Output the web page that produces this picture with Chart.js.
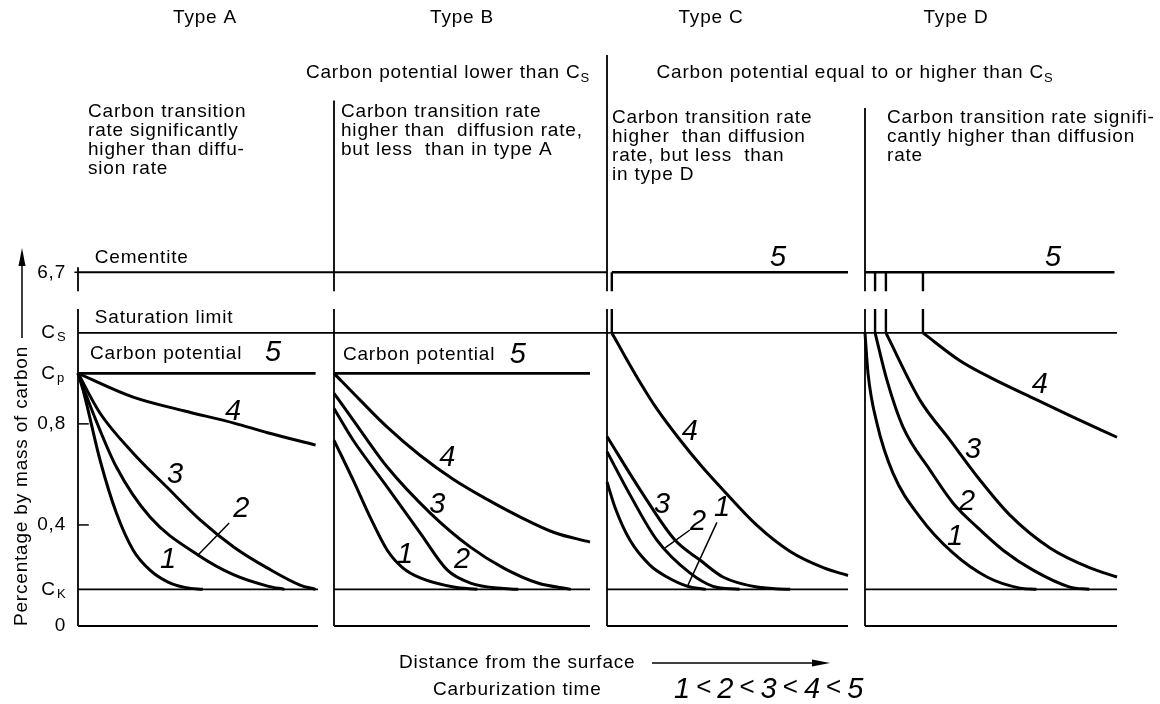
<!DOCTYPE html>
<html>
<head>
<meta charset="utf-8">
<script src="https://cdn.jsdelivr.net/npm/chart.js@4.4.1/dist/chart.umd.min.js"></script>
<style>
    html, body { margin: 0; padding: 0; background: #fff; }
    #wrap { width: 1160px; height: 704px; }
</style>
</head>
<body>
<div id="wrap"><canvas id="carbon-chart" width="1160" height="704"></canvas></div>
<script>
// carbon levels on the (broken) y axis
const C_K = 0.145;
const C_P = 1.0;
const C_S = 1.16;
const CEMENTITE = 1.40;
const yTickValues = [0, C_K, 0.4, 0.8, C_P, C_S, CEMENTITE];
const yTickLabels = ['0', 'C', '0,4', '0,8', 'C', 'C', '6,7'];
const yTickSubs = ['', 'K', '', '', 'p', 'S', ''];

const panelNames = ['Type A', 'Type B', 'Type C', 'Type D'];

// curves: [distance as fraction of panel width, % carbon]
const typeA1 = [[0, 1.0], [0.025, 0.92], [0.092, 0.656], [0.16, 0.447], [0.23, 0.30], [0.30, 0.221], [0.375, 0.174], [0.45, 0.152], [0.52, 0.145]];
const typeA2 = [[0, 1.0], [0.063, 0.842], [0.16, 0.629], [0.30, 0.431], [0.50, 0.281], [0.65, 0.202], [0.79, 0.158], [0.86, 0.145]];
const typeA3 = [[0, 1.0], [0.092, 0.842], [0.23, 0.684], [0.37, 0.55], [0.51, 0.419], [0.65, 0.312], [0.79, 0.229], [0.925, 0.162], [0.99, 0.145]];
const typeA4 = [[0, 1.0], [0.23, 0.906], [0.44, 0.852], [0.65, 0.803], [0.79, 0.765], [0.99, 0.716]];
const typeA5 = [[0, C_P], [0.99, C_P]];

const typeB1 = [[0, 0.735], [0.075, 0.577], [0.141, 0.431], [0.208, 0.30], [0.27, 0.229], [0.337, 0.19], [0.467, 0.154], [0.56, 0.145]];
const typeB2 = [[0, 0.861], [0.075, 0.735], [0.208, 0.55], [0.337, 0.368], [0.443, 0.221], [0.533, 0.170], [0.663, 0.148], [0.72, 0.145]];
const typeB3 = [[0, 0.921], [0.075, 0.815], [0.208, 0.629], [0.376, 0.447], [0.533, 0.312], [0.663, 0.229], [0.796, 0.170], [0.925, 0.145]];
const typeB4 = [[0, 1.0], [0.102, 0.894], [0.208, 0.787], [0.337, 0.675], [0.467, 0.58], [0.6, 0.50], [0.73, 0.43], [0.86, 0.37], [1.0, 0.332]];
const typeB5 = [[0, C_P], [1.0, C_P]];

const typeC1 = [[0, 0.57], [0.033, 0.47], [0.095, 0.34], [0.178, 0.241], [0.249, 0.194], [0.332, 0.158], [0.41, 0.145]];
const typeC2 = [[0, 0.69], [0.095, 0.52], [0.207, 0.34], [0.344, 0.21], [0.44, 0.157], [0.55, 0.145]];
const typeC3 = [[0, 0.75], [0.137, 0.54], [0.282, 0.34], [0.386, 0.261], [0.481, 0.194], [0.622, 0.154], [0.76, 0.145]];
const typeC4 = [[0.02, C_S], [0.07, 1.075], [0.14, 0.96], [0.21, 0.855], [0.30, 0.74], [0.39, 0.635], [0.48, 0.54], [0.62, 0.40], [0.76, 0.295], [0.90, 0.23], [1.0, 0.20]];
const typeC5 = [[0.02, CEMENTITE], [1.0, CEMENTITE]];

const typeD1 = [[0, C_S], [0.012, 1.0], [0.048, 0.80], [0.111, 0.605], [0.218, 0.431], [0.349, 0.289], [0.484, 0.194], [0.615, 0.15], [0.68, 0.145]];
const typeD2 = [[0.04, C_S], [0.087, 0.973], [0.151, 0.787], [0.258, 0.617], [0.349, 0.487], [0.444, 0.392], [0.548, 0.30], [0.667, 0.221], [0.813, 0.154], [0.89, 0.145]];
const typeD3 = [[0.083, C_S], [0.218, 0.894], [0.337, 0.736], [0.456, 0.578], [0.575, 0.439], [0.734, 0.309], [0.893, 0.23], [1.0, 0.194]];
const typeD4 = [[0.23, C_S], [0.377, 1.05], [0.508, 0.978], [0.667, 0.902], [0.813, 0.833], [1.0, 0.747]];
const typeD5 = [[0, CEMENTITE], [0.99, CEMENTITE]];

// depth of the cementite layer at the surface (types C and D)
const cementiteC = [0.02];
const cementiteD = [0.04, 0.083, 0.23];

// curve number labels: [panel, distance, carbon, text]
const curveLabels = [
    [0, 0.375, 0.261, '1'], [0, 0.68, 0.465, '2'], [0, 0.404, 0.598, '3'], [0, 0.646, 0.847, '4'], [0, 0.8125, 1.08, '5'],
    [1, 0.278, 0.281, '1'], [1, 0.5, 0.26, '2'], [1, 0.404, 0.479, '3'], [1, 0.443, 0.665, '4'], [1, 0.718, 1.072, '5'],
    [2, 0.477, 0.467, '1'], [2, 0.378, 0.412, '2'], [2, 0.228, 0.479, '3'], [2, 0.344, 0.768, '4'], [2, 0.71, 1.456, '5'],
    [3, 0.357, 0.352, '1'], [3, 0.405, 0.49, '2'], [3, 0.429, 0.696, '3'], [3, 0.694, 0.954, '4'], [3, 0.746, 1.456, '5']
];
// leader lines from a curve to its number
const leaderA2 = [[0.5, 0.281], [0.63, 0.408]];
const leaderC1 = [[0.336, 0.162], [0.456, 0.41]];
const leaderC2 = [[0.241, 0.309], [0.344, 0.38]];

// layout: panel placement on the shared x axis, axis break, divider tops
const panelStart = [0, 256, 529, 787];
const panelWidth = [240, 256, 241, 252];
const X_MAX = 1039;
const axisBreak = [1.325, 1.255];
const dividerTop = [1.42, 2.08, 2.26, 2.05];

const BLACK = '#000';
const FAMILY = '"Liberation Sans", Arial, sans-serif';
const TEXT_FONT = '19px ' + FAMILY;
const SUB_FONT = '13px ' + FAMILY;
const DIGIT_FONT = 'italic 29px ' + FAMILY;

function at(panel, f) {
    return panelStart[panel] + f * panelWidth[panel];
}

function line(panel, pts, width, extra) {
    return Object.assign({
        data: pts.map(p => ({ x: at(panel, p[0]), y: p[1] })),
        borderColor: BLACK,
        borderWidth: width,
        pointRadius: 0,
        fill: false,
        tension: 0,
        clip: false
    }, extra || {});
}

function curve(panel, pts) {
    return line(panel, pts, 3, { cubicInterpolationMode: 'monotone' });
}

function buildDatasets() {
    const ds = [];
    // frame of each panel
    for (let p = 0; p < 4; p++) {
        ds.push(line(p, [[0, dividerTop[p]], [0, axisBreak[0]], [0, null], [0, axisBreak[1]], [0, 0]], 1.8));
        ds.push(line(p, [[0, 0], [1, 0]], 1.8));
        ds.push(line(p, [[0, C_K], [1, C_K]], 1.6));
    }
    ds.push(line(0, [[0, 0.8], [0.045, 0.8]], 1.5));
    ds.push(line(0, [[0, 0.4], [0.045, 0.4]], 1.5));
    ds.push(line(0, [[-0.015, CEMENTITE], [0, CEMENTITE]], 1.5));
    // saturation limit across all panels, cementite line across A to C
    ds.push({ data: [{ x: 0, y: C_S }, { x: X_MAX, y: C_S }], borderColor: BLACK, borderWidth: 1.6, pointRadius: 0, tension: 0 });
    ds.push({ data: [{ x: 0, y: CEMENTITE }, { x: at(2, 0), y: CEMENTITE }], borderColor: BLACK, borderWidth: 1.8, pointRadius: 0, tension: 0 });
    // cementite layers
    cementiteC.forEach(f => ds.push(line(2, [[f, CEMENTITE], [f, axisBreak[0]], [f, null], [f, axisBreak[1]], [f, C_S]], 2.4)));
    cementiteD.forEach(f => ds.push(line(3, [[f, CEMENTITE], [f, axisBreak[0]], [f, null], [f, axisBreak[1]], [f, C_S]], 2.4)));
    // curves
    [typeA1, typeA2, typeA3, typeA4].forEach(c => ds.push(curve(0, c)));
    [typeB1, typeB2, typeB3, typeB4].forEach(c => ds.push(curve(1, c)));
    [typeC1, typeC2, typeC3, typeC4].forEach(c => ds.push(curve(2, c)));
    [typeD1, typeD2, typeD3, typeD4].forEach(c => ds.push(curve(3, c)));
    ds.push(line(0, typeA5, 2.8));
    ds.push(line(1, typeB5, 2.8));
    ds.push(line(2, typeC5, 2.6));
    ds.push(line(3, typeD5, 2.6));
    // leaders
    ds.push(line(0, leaderA2, 1.5));
    ds.push(line(2, leaderC1, 1.5));
    ds.push(line(2, leaderC2, 1.5));
    return ds;
}

function textWithSub(ctx, main, sub, x, y, align) {
    ctx.font = TEXT_FONT;
    const w1 = ctx.measureText(main).width;
    ctx.font = SUB_FONT;
    const w2 = ctx.measureText(sub).width;
    const x0 = align === 'center' ? x - (w1 + w2) / 2 : x;
    ctx.textAlign = 'left';
    ctx.font = TEXT_FONT;
    ctx.fillText(main, x0, y);
    ctx.font = SUB_FONT;
    ctx.fillText(sub, x0 + w1, y + 5);
}

function textBlock(ctx, lines, x, y) {
    ctx.font = TEXT_FONT;
    ctx.textAlign = 'left';
    lines.forEach((s, i) => ctx.fillText(s, x, y + i * 19));
}

const diagramText = {
    id: 'diagramText',
    beforeDraw(chart) {
        chart.ctx.letterSpacing = '0.8px';
    },
    afterDraw(chart) {
        const { ctx, scales: { x, y } } = chart;
        const px = (p, f) => x.getPixelForValue(at(p, f));
        const py = v => y.getPixelForValue(v);
        ctx.save();
        ctx.fillStyle = BLACK;
        ctx.strokeStyle = BLACK;
        ctx.textBaseline = 'middle';
        ctx.letterSpacing = '0.8px';

        // subscripts of the C tick labels
        ctx.font = SUB_FONT;
        ctx.textAlign = 'left';
        yTickValues.forEach((v, i) => {
            if (yTickSubs[i]) ctx.fillText(yTickSubs[i], y.right - 21, py(v) + 5);
        });

        // headings
        ctx.font = TEXT_FONT;
        ctx.textAlign = 'center';
        [205, 462, 711, 956].forEach((cx, i) => ctx.fillText(panelNames[i], cx, 18));
        textWithSub(ctx, 'Carbon potential lower than C', 'S', 448, 73, 'center');
        textWithSub(ctx, 'Carbon potential equal to or higher than C', 'S', 855, 73, 'center');

        textBlock(ctx, ['Carbon transition', 'rate significantly', 'higher than diffu-', 'sion rate'], 88, 112);
        textBlock(ctx, ['Carbon transition rate', 'higher than  diffusion rate,', 'but less  than in type A'], 341, 112);
        textBlock(ctx, ['Carbon transition rate', 'higher  than diffusion', 'rate, but less  than', 'in type D'], 612, 118);
        textBlock(ctx, ['Carbon transition rate signifi-', 'cantly higher than diffusion', 'rate'], 887, 118);

        // level names
        ctx.textAlign = 'left';
        ctx.fillText('Cementite', px(0, 0.07), py(CEMENTITE) - 15);
        ctx.fillText('Saturation limit', px(0, 0.07), py(C_S) - 15);
        ctx.fillText('Carbon potential', px(0, 0.05), py(C_P) - 20);
        ctx.fillText('Carbon potential', px(1, 0.035), py(C_P) - 19);

        // curve numbers
        ctx.letterSpacing = '0px';
        ctx.font = DIGIT_FONT;
        ctx.textAlign = 'center';
        curveLabels.forEach(([p, f, v, s]) => ctx.fillText(s, px(p, f), py(v)));

        // x axis caption with arrow
        ctx.letterSpacing = '0.8px';
        ctx.font = TEXT_FONT;
        ctx.textAlign = 'left';
        ctx.fillText('Distance from the surface', 399, 663);
        ctx.lineWidth = 1.5;
        ctx.beginPath();
        ctx.moveTo(652, 663);
        ctx.lineTo(816, 663);
        ctx.stroke();
        ctx.beginPath();
        ctx.moveTo(830, 663);
        ctx.lineTo(812, 659.5);
        ctx.lineTo(812, 666.5);
        ctx.closePath();
        ctx.fill();

        ctx.fillText('Carburization time', 433, 690);
        let cx = 674;
        ['1', '<', '2', '<', '3', '<', '4', '<', '5'].forEach(s => {
            ctx.letterSpacing = '0px';
            ctx.font = s === '<' ? '26px ' + FAMILY : DIGIT_FONT;
            ctx.textAlign = 'left';
            ctx.fillText(s, cx, s === '<' ? 688 : 690);
            cx += ctx.measureText(s).width + 6;
        });

        // arrow on the y axis title
        ctx.letterSpacing = '0.8px';
        ctx.font = TEXT_FONT;
        const w = ctx.measureText(chart.options.scales.y.title.text).width;
        const tx = 22;
        ctx.lineWidth = 1.5;
        ctx.beginPath();
        ctx.moveTo(tx, y.bottom - w - 8);
        ctx.lineTo(tx, 262);
        ctx.stroke();
        ctx.beginPath();
        ctx.moveTo(tx, 248);
        ctx.lineTo(tx - 3.5, 266);
        ctx.lineTo(tx + 3.5, 266);
        ctx.closePath();
        ctx.fill();
        ctx.restore();
    }
};

Chart.defaults.font.family = FAMILY;
Chart.defaults.color = BLACK;

const ctx = document.getElementById('carbon-chart').getContext('2d');
const carbonChart = new Chart(ctx, {
    type: 'line',
    data: { datasets: buildDatasets() },
    options: {
        responsive: false,
        animation: false,
        devicePixelRatio: 1,
        layout: { padding: { left: 0, right: 43, top: 247, bottom: 78 } },
        plugins: { legend: { display: false }, tooltip: { enabled: false } },
        scales: {
            x: { type: 'linear', min: 0, max: X_MAX, display: false },
            y: {
                type: 'linear',
                min: 0,
                max: 1.5,
                grid: { display: false, drawTicks: false },
                border: { display: false },
                afterBuildTicks: scale => {
                    scale.ticks = yTickValues.map(v => ({ value: v }));
                },
                afterFit: scale => {
                    scale.width = 78;
                },
                ticks: {
                    padding: 12,
                    font: { size: 19 },
                    color: BLACK,
                    callback: value => {
                        const i = yTickValues.indexOf(value);
                        return yTickSubs[i] ? yTickLabels[i] + '\u2002' : yTickLabels[i];
                    }
                },
                title: {
                    display: true,
                    text: 'Percentage by mass of carbon',
                    align: 'start',
                    font: { size: 19 },
                    color: BLACK,
                    padding: { top: 10, bottom: 0 }
                }
            }
        }
    },
    plugins: [diagramText]
});
</script>
</body>
</html>
